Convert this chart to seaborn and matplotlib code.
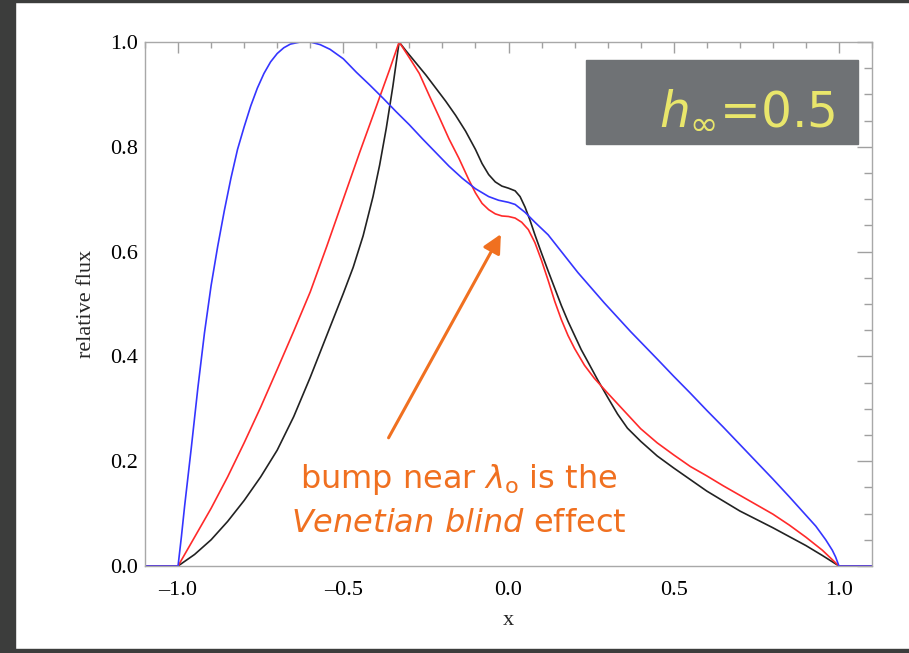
import numpy as np
import pandas as pd
import matplotlib
matplotlib.use("Agg")
import matplotlib.pyplot as plt
from matplotlib.patches import Rectangle
from matplotlib.ticker import MultipleLocator, FuncFormatter
import seaborn as sns

# values
blue_x = [-1.1, -1.0, -0.99, -0.98, -0.96, -0.94, -0.92, -0.90, -0.88, -0.86, -0.84,
          -0.82, -0.80, -0.78, -0.76, -0.74, -0.72, -0.70, -0.68, -0.66, -0.63, -0.60,
          -0.57, -0.54, -0.50, -0.46, -0.42, -0.38, -0.34, -0.30, -0.26, -0.22, -0.18,
          -0.14, -0.10, -0.06, -0.03, 0.0, 0.02, 0.05, 0.08, 0.12, 0.16, 0.21, 0.29,
          0.37, 0.45, 0.50, 0.55, 0.60, 0.65, 0.70, 0.75, 0.80, 0.85, 0.90, 0.93, 0.96,
          0.98, 0.99, 1.0, 1.1]
blue_y = [0.0, 0.0, 0.055, 0.115, 0.225, 0.34, 0.445, 0.535, 0.61, 0.678, 0.74,
          0.795, 0.838, 0.878, 0.912, 0.94, 0.962, 0.978, 0.989, 0.996, 1.0, 1.0,
          0.995, 0.986, 0.968, 0.942, 0.918, 0.893, 0.867, 0.842, 0.815, 0.789, 0.763,
          0.740, 0.720, 0.705, 0.698, 0.694, 0.690, 0.675, 0.656, 0.632, 0.600, 0.560, 0.502,
          0.447, 0.395, 0.362, 0.330, 0.297, 0.265, 0.232, 0.199, 0.166, 0.132, 0.097, 0.076, 0.050,
          0.030, 0.017, 0.0, 0.0]

red_x = [-1.1, -1.0, -0.95, -0.90, -0.85, -0.80, -0.75, -0.70, -0.65, -0.60, -0.55,
         -0.50, -0.45, -0.40, -0.36, -0.331, -0.30, -0.27, -0.24, -0.21, -0.18, -0.15,
         -0.12, -0.10, -0.08, -0.06, -0.04, -0.02, 0.0, 0.02, 0.04, 0.06, 0.08, 0.10,
         0.12, 0.14, 0.16, 0.18, 0.20, 0.23, 0.26, 0.30, 0.35, 0.40, 0.45, 0.50, 0.55,
         0.60, 0.65, 0.70, 0.75, 0.80, 0.85, 0.90, 0.95, 1.0, 1.1]
red_y = [0.0, 0.0, 0.055, 0.11, 0.17, 0.235, 0.303, 0.375, 0.448, 0.523, 0.61,
         0.70, 0.79, 0.877, 0.947, 1.0, 0.97, 0.94, 0.898, 0.857, 0.815, 0.778,
         0.737, 0.712, 0.692, 0.680, 0.672, 0.668, 0.667, 0.664, 0.656, 0.642, 0.617, 0.583,
         0.545, 0.505, 0.470, 0.440, 0.415, 0.383, 0.358, 0.330, 0.296, 0.262, 0.235, 0.212, 0.190,
         0.172, 0.153, 0.135, 0.117, 0.099, 0.078, 0.055, 0.030, 0.0, 0.0]

black_x = [-1.1, -1.0, -0.95, -0.90, -0.85, -0.80, -0.75, -0.70, -0.65, -0.60, -0.55,
           -0.50, -0.47, -0.44, -0.41, -0.39, -0.37, -0.35, -0.331, -0.31, -0.28, -0.25,
           -0.22, -0.19, -0.16, -0.13, -0.10, -0.08, -0.06, -0.04, -0.02, 0.0, 0.02,
           0.035, 0.05, 0.065, 0.08, 0.10, 0.12, 0.14, 0.16, 0.18, 0.20, 0.22, 0.24,
           0.27, 0.30, 0.33, 0.36, 0.40, 0.45, 0.50, 0.55, 0.60, 0.65, 0.70, 0.75, 0.80,
           0.85, 0.90, 0.95, 1.0, 1.1]
black_y = [0.0, 0.0, 0.022, 0.05, 0.085, 0.125, 0.17, 0.221, 0.285, 0.36, 0.44,
           0.52, 0.57, 0.63, 0.705, 0.765, 0.835, 0.915, 1.0, 0.983, 0.96, 0.937,
           0.912, 0.887, 0.86, 0.83, 0.795, 0.768, 0.747, 0.733, 0.725, 0.721, 0.716,
           0.705, 0.685, 0.66, 0.632, 0.597, 0.563, 0.53, 0.497, 0.467, 0.44, 0.413, 0.39,
           0.355, 0.322, 0.29, 0.263, 0.238, 0.210, 0.187, 0.165, 0.143, 0.124, 0.105, 0.089, 0.073,
           0.056, 0.039, 0.02, 0.0, 0.0]

sns.set_style("white")
plt.rcParams['font.family'] = ['Liberation Serif', 'DejaVu Sans']
plt.rcParams['mathtext.fontset'] = 'dejavusans'

fig = plt.figure(figsize=(9.09, 6.53), dpi=100)
fig.patch.set_facecolor('white')
ax = fig.add_axes([145/909, 1 - 566/653, 727/909, 524/653])

# dark frame around the slide
dark = '#3c3d3c'
fig.patches.append(Rectangle((0, 0), 15/909, 1, transform=fig.transFigure, color=dark, zorder=-1))
fig.patches.append(Rectangle((0, 0), 1, 4/653, transform=fig.transFigure, color=dark, zorder=-1))
fig.patches.append(Rectangle((0, 1 - 1.5/653), 1, 1.5/653, transform=fig.transFigure, color=dark, zorder=-1))

sns.lineplot(x=black_x, y=black_y, ax=ax, color='#222222', lw=1.2, sort=False)
sns.lineplot(x=red_x, y=red_y, ax=ax, color='#ff2a2a', lw=1.2, sort=False)
sns.lineplot(x=blue_x, y=blue_y, ax=ax, color='#3535ff', lw=1.2, sort=False)

ax.set_xlim(-1.1, 1.1)
ax.set_ylim(0, 1.0)
ax.xaxis.set_major_locator(MultipleLocator(0.5))
ax.xaxis.set_minor_locator(MultipleLocator(0.1))
ax.yaxis.set_major_locator(MultipleLocator(0.2))
ax.yaxis.set_minor_locator(MultipleLocator(0.05))
ax.xaxis.set_major_formatter(FuncFormatter(lambda v, p: f"{v:.1f}".replace('-', '\u2013')))
ax.yaxis.set_major_formatter(FuncFormatter(lambda v, p: f"{v:.1f}"))

tick_c = '#a0a0a0'
ax.tick_params(axis='both', which='both', direction='in', top=True, right=True,
               colors=tick_c, labelcolor='black', labelsize=16, width=1)
ax.tick_params(axis='x', which='major', length=8, pad=11)
ax.tick_params(axis='x', which='minor', length=4.5)
ax.tick_params(axis='y', which='major', length=11, pad=5)
ax.tick_params(axis='y', which='minor', length=6)
for s in ax.spines.values():
    s.set_color('#a8a8a8')
    s.set_linewidth(1)

ax.set_xlabel('x', fontsize=16)
ax.set_ylabel('relative flux', fontsize=16)
ax.xaxis.set_label_coords(0.5, -0.085)
ax.yaxis.set_label_coords(-0.068, 0.5)

# h_inf label box
ax.add_patch(Rectangle((0.6066, 0.8053), 0.3741, 0.1603, transform=ax.transAxes,
                       color='#6f7275', zorder=5, clip_on=False))
ax.text(0.949, 0.845, r'$h_{\infty}$=0.5', transform=ax.transAxes, ha='right', va='baseline',
        fontsize=35, color='#e9e66b', family=['DejaVu Sans'], zorder=6)

# annotation
orange = '#f07020'
ax.annotate('', xy=(-0.019, 0.638), xytext=(-0.367, 0.240),
            arrowprops=dict(arrowstyle='-|>', lw=2.2, color=orange, mutation_scale=28))
ax.text(-0.15, 0.149, r'bump near $\lambda_{\mathrm{o}}$ is the', ha='center', va='baseline',
        fontsize=23, color=orange, family=['DejaVu Sans'])
ax.text(-0.15, 0.065, r'$\mathit{Venetian\ blind}$ effect', ha='center', va='baseline',
        fontsize=23, color=orange, family=['DejaVu Sans'])

plt.savefig('out.png', dpi=100)
